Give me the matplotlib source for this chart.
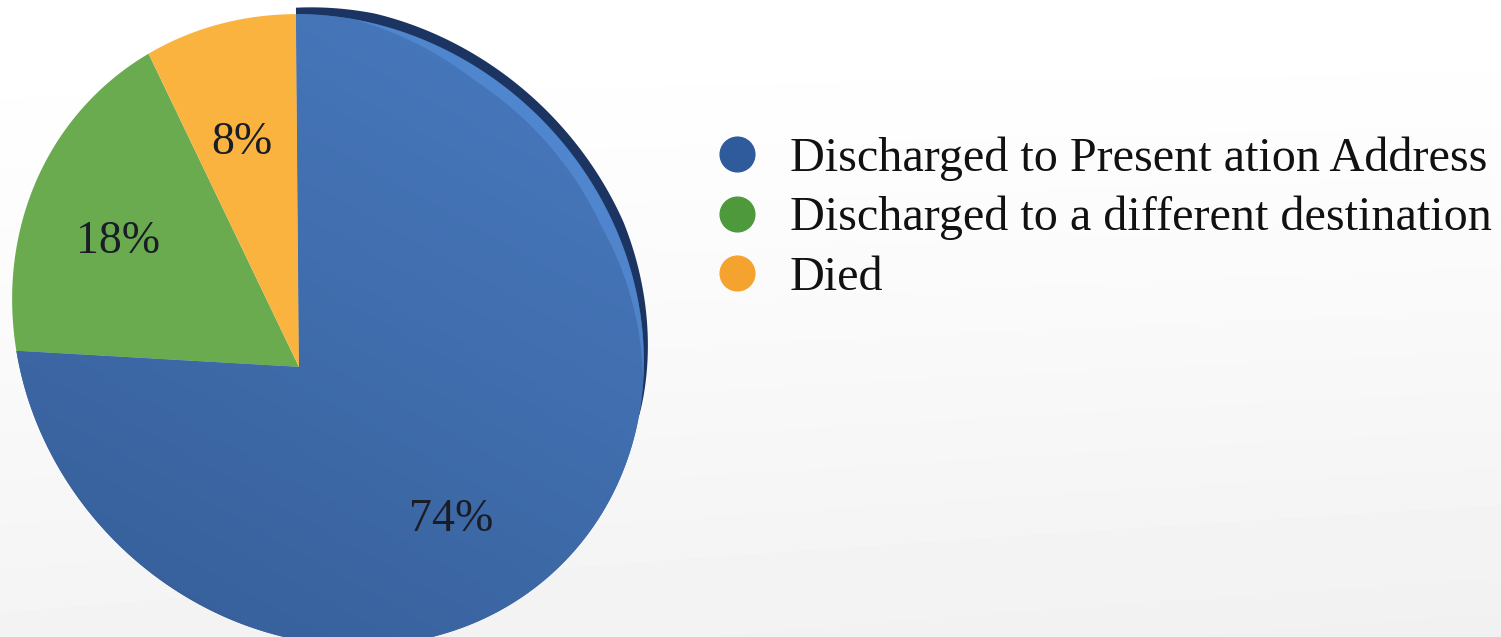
import numpy as np
import matplotlib.pyplot as plt
from matplotlib.patches import Polygon
from matplotlib.lines import Line2D
from matplotlib.colors import LinearSegmentedColormap

# Outcome of admissions (percent)
outcomes = ['Discharged to Present ation Address',
            'Discharged to a different destination',
            'Died']
shares = [74, 18, 8]
slice_colors = ['#3f6aab', '#6aab50', '#fbb340']
dot_colors = ['#2f5a9c', '#4f993d', '#f5a32f']

plt.rcParams['font.family'] = ['Liberation Serif', 'DejaVu Serif']

W, H = 1501, 637
fig = plt.figure(figsize=(W / 100, H / 100), dpi=100)
ax = fig.add_axes([0, 0, 1, 1])

# The pie is computed on a unit disk and then bent onto a tilted ellipse
# whose apex sits off-centre, which gives the 3-D slide look.
centre = np.array([328.0, 307.0])
apex = np.array([299.0, 270.0])
a_ax, b_ax, tilt = 331.0, 300.0, np.radians(135)
u = np.array([np.cos(tilt), np.sin(tilt)])
v = np.array([-np.sin(tilt), np.cos(tilt)])
shape = a_ax * np.outer(u, u) + b_ax * np.outer(v, v)
twist = np.radians(3)


def warp(pts):
    pts = np.atleast_2d(np.asarray(pts, dtype=float))
    r = np.hypot(pts[:, 0], pts[:, 1])
    t = np.arctan2(pts[:, 1], pts[:, 0]) + twist
    edge = centre + np.column_stack([np.cos(t), np.sin(t)]) @ shape.T
    return apex + r[:, None] * (edge - apex)


def wedge_outline(w, n=300):
    th = np.radians(np.linspace(w.theta1, w.theta2, n))
    arc = np.column_stack([np.cos(th), np.sin(th)]) * w.r + np.asarray(w.center)
    # straight sides from the apex, sampled so the bend stays smooth
    s = np.linspace(0, 1, 40)[:, None]
    side_in = s * arc[0]
    side_out = (1 - s) * arc[-1]
    return np.vstack([side_in, arc, side_out])


# soft slide background
by, bx = np.mgrid[0:1:120j, 0:1:240j]
shade = 1 - 0.045 * (1 - by) ** 1.3 - 0.012 * bx * (1 - by)
bg_cmap = LinearSegmentedColormap.from_list('bg', ['#000000', '#ffffff'])
ax.imshow(shade, extent=(0, W, 0, H), origin='lower', cmap=bg_cmap,
          vmin=0, vmax=1, aspect='auto', zorder=0, interpolation='bilinear')

wedges, _, pct_texts = ax.pie(shares, colors=slice_colors, startangle=90,
                              counterclock=False,
                              autopct=lambda p: f'{p:.0f}%', pctdistance=0.65,
                              textprops=dict(fontsize=33, color='#1a1d26'))

slice_patches = []
for w, col in zip(wedges, slice_colors):
    poly = warp(wedge_outline(w))
    w.remove()
    patch = Polygon(poly, closed=True, facecolor=col, edgecolor='none', zorder=2)
    ax.add_patch(patch)
    slice_patches.append(patch)

# shading across the big slice
blue_shade = LinearSegmentedColormap.from_list('blue_shade', ['#355d96', '#4a7cc2'])
gy, gx = np.mgrid[0:1:200j, 0:1:200j]
grad = ax.imshow(0.35 * gx + 0.65 * gy, extent=(0, 660, -20, 660), origin='lower',
                 cmap=blue_shade, aspect='auto', zorder=2.1, interpolation='bilinear')
grad.set_clip_path(slice_patches[0])

# dark extruded edge and light bevel on the upper right
blue = wedges[0]
th = np.linspace(blue.theta2, -16, 240)
fade = np.clip((th + 16) / 35, 0, 1) ** 0.8 * np.clip(0.65 + (90 - th) / 40, 0, 1)
ring = np.column_stack([np.cos(np.radians(th)), np.sin(np.radians(th))])
rim = np.vstack([ring * (1 + 0.028 * fade)[:, None], ring[::-1] * 0.995])
ax.add_patch(Polygon(warp(rim), closed=True, facecolor='#1c3461',
                     edgecolor='none', zorder=1.5))

th2 = np.linspace(80, -10, 200)
fade2 = np.clip((th2 + 10) / 30, 0, 1) * np.clip((80 - th2) / 25, 0, 1)
ring2 = np.column_stack([np.cos(np.radians(th2)), np.sin(np.radians(th2))])
bevel = np.vstack([ring2 * 0.999, ring2[::-1] * (1 - 0.035 * fade2[::-1])[:, None]])
ax.add_patch(Polygon(warp(bevel), closed=True, facecolor='#5a95e0',
                     edgecolor='none', alpha=0.55, zorder=2.2))

# move the percentage labels onto the bent pie
label_nudge = [(-30, -37), (-11, 3), (-5, 1)]
for t, (dx, dy) in zip(pct_texts, label_nudge):
    x, y = warp(t.get_position())[0]
    t.set_position((x + dx, y + dy))
    t.set_zorder(3)

ax.set_xlim(0, W)
ax.set_ylim(0, H)
ax.set_aspect('auto')
ax.axis('off')

handles = [Line2D([], [], linestyle='none', marker='o', markersize=25,
                  markerfacecolor=c, markeredgecolor=c) for c in dot_colors]
leg = ax.legend(handles, outcomes, loc='upper left',
                bbox_to_anchor=(714 / W, 1 - 136 / H), frameon=False,
                fontsize=34.7, handlelength=0.97, handletextpad=0.6,
                labelspacing=0.32, borderaxespad=0, borderpad=0)
for t in leg.get_texts():
    t.set_color('#111111')

fig.savefig('out.png', dpi=100)
